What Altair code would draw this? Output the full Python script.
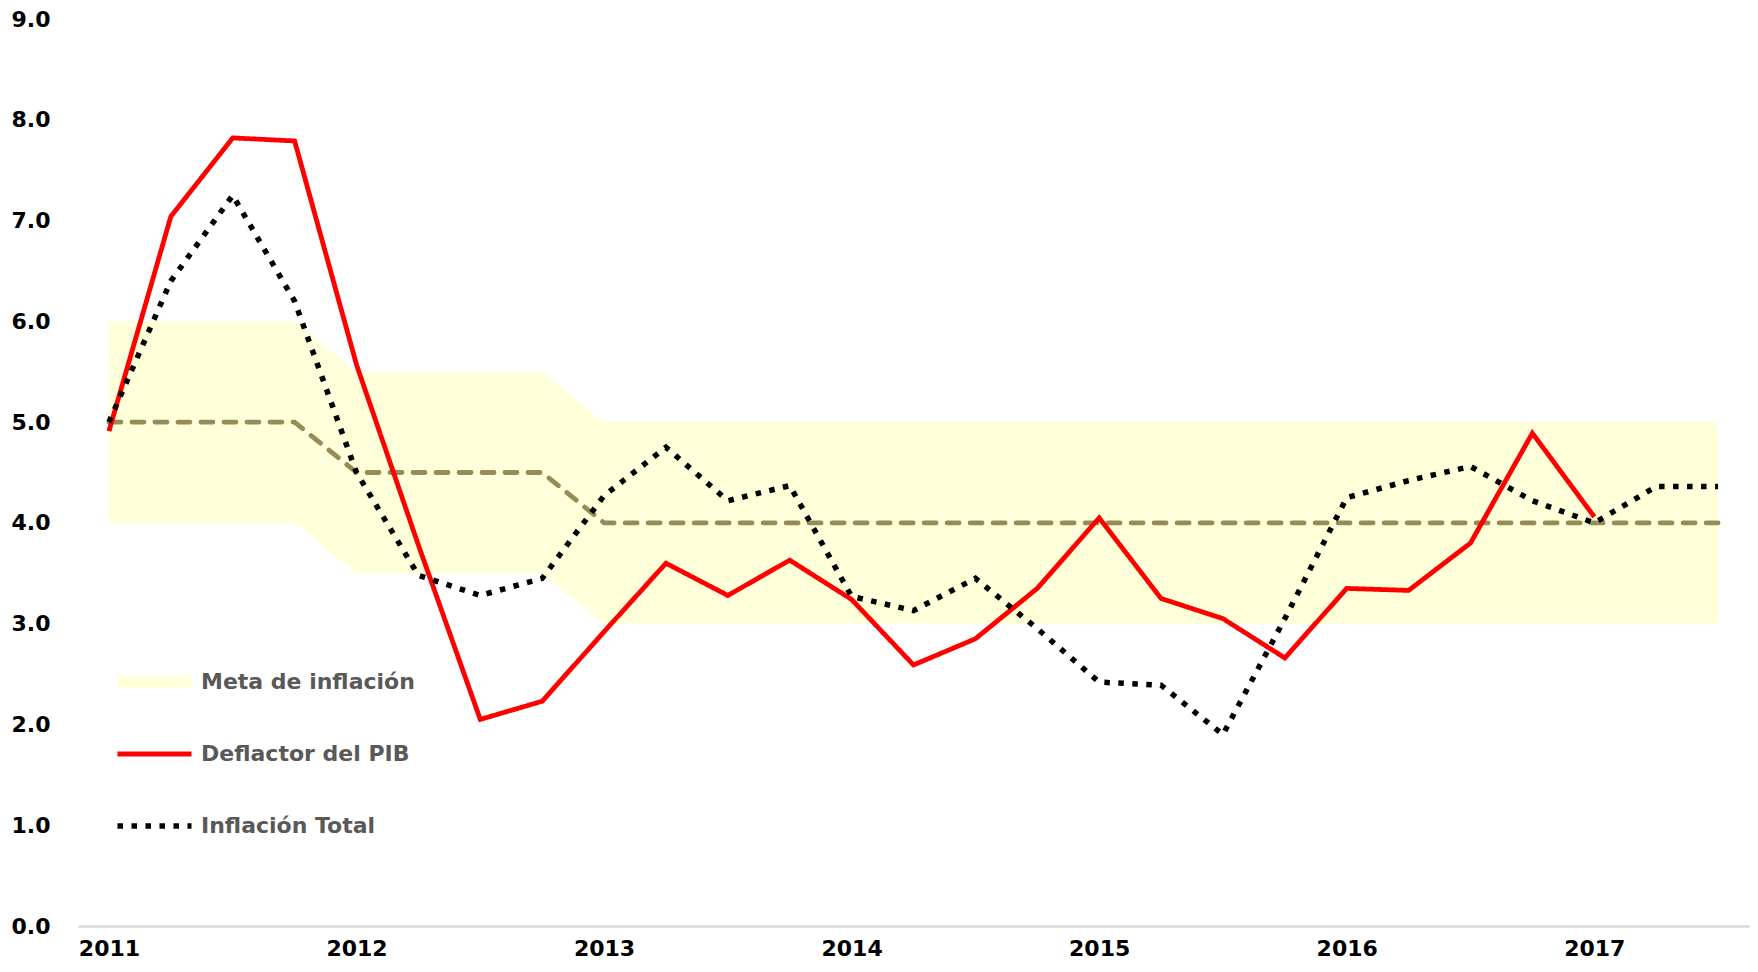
import json
import altair as alt
import pandas as pd

# ---- data (quarterly, 2011T1 .. 2017T3) ----
periodos = ["2011T1", "2011T2", "2011T3", "2011T4",
            "2012T1", "2012T2", "2012T3", "2012T4",
            "2013T1", "2013T2", "2013T3", "2013T4",
            "2014T1", "2014T2", "2014T3", "2014T4",
            "2015T1", "2015T2", "2015T3", "2015T4",
            "2016T1", "2016T2", "2016T3", "2016T4",
            "2017T1", "2017T2", "2017T3"]
anios = ["2011", "2012", "2013", "2014", "2015", "2016", "2017"]

deflactor_pib = [4.91, 7.04, 7.82, 7.79, 5.57, 3.78, 2.05, 2.23,
                 2.92, 3.60, 3.28, 3.63, 3.24, 2.59, 2.85, 3.35,
                 4.05, 3.25, 3.05, 2.66, 3.35, 3.33, 3.80, 4.89,
                 4.06]
inflacion_total = [5.00, 6.40, 7.25, 6.20, 4.50, 3.48, 3.28, 3.45,
                   4.27, 4.75, 4.22, 4.37, 3.27, 3.13, 3.45, 2.95,
                   2.42, 2.39, 1.90, 3.05, 4.25, 4.42, 4.56, 4.22,
                   4.00, 4.36, 4.36]
meta_centro = [5.0, 5.0, 5.0, 5.0, 4.5, 4.5, 4.5, 4.5,
               4.0, 4.0, 4.0, 4.0, 4.0, 4.0, 4.0, 4.0,
               4.0, 4.0, 4.0, 4.0, 4.0, 4.0, 4.0, 4.0,
               4.0, 4.0, 4.0]
meta_inferior = [4.0, 4.0, 4.0, 4.0, 3.5, 3.5, 3.5, 3.5,
                 3.0, 3.0, 3.0, 3.0, 3.0, 3.0, 3.0, 3.0,
                 3.0, 3.0, 3.0, 3.0, 3.0, 3.0, 3.0, 3.0,
                 3.0, 3.0, 3.0]
meta_superior = [6.0, 6.0, 6.0, 6.0, 5.5, 5.5, 5.5, 5.5,
                 5.0, 5.0, 5.0, 5.0, 5.0, 5.0, 5.0, 5.0,
                 5.0, 5.0, 5.0, 5.0, 5.0, 5.0, 5.0, 5.0,
                 5.0, 5.0, 5.0]

series = ["Meta de inflación", "Deflactor del PIB", "Inflación Total"]

# ---- tables ----
df_meta = pd.DataFrame({
    "idx": list(range(len(periodos))),
    "periodo": periodos,
    "centro": meta_centro,
    "inferior": meta_inferior,
    "superior": meta_superior,
})
rows = []
for i, v in enumerate(deflactor_pib):
    rows.append({"idx": i, "periodo": periodos[i], "serie": series[1], "valor": v})
for i, v in enumerate(inflacion_total):
    rows.append({"idx": i, "periodo": periodos[i], "serie": series[2], "valor": v})
df_lines = pd.DataFrame(rows)

FONT = "DejaVu Sans"

x_enc = alt.X(
    "idx:Q",
    scale=alt.Scale(domain=[-0.5, len(periodos) - 0.5], nice=False, zero=False),
    axis=alt.Axis(
        title=None, values=[0, 4, 8, 12, 16, 20, 24],
        labelExpr=json.dumps(anios) + "[round(datum.value / 4)]",
        grid=False, ticks=False, domainColor="#D9D9D9", domainWidth=2.5,
        labelFont=FONT, labelFontSize=22, labelFontWeight="bold",
        labelColor="#000000", labelPadding=12, labelBaseline="top",
    ),
)
y_axis = alt.Axis(
    title=None, values=[0, 1, 2, 3, 4, 5, 6, 7, 8, 9], format=".1f",
    grid=False, ticks=False, domain=False,
    labelFont=FONT, labelFontSize=22, labelFontWeight="bold",
    labelColor="#000000", labelPadding=28,
)
y_scale = alt.Scale(domain=[0, 9], nice=False, zero=True)


def leyenda():
    return alt.Legend(
        title=None, orient="none", legendX=33, legendY=638,
        symbolType="stroke", symbolSize=5476, labelOffset=3,
        clipHeight=50, rowPadding=22, padding=0,
        labelFont=FONT, labelFontSize=22, labelFontWeight="bold",
        labelColor="#595959", labelLimit=500,
    )


band = alt.Chart(df_meta).mark_area(color="#FFFFD9", opacity=1).encode(
    x=x_enc,
    y=alt.Y("inferior:Q", scale=y_scale, axis=y_axis),
    y2="superior:Q",
)

centro = alt.Chart(df_meta).mark_line(
    color="#978C57", strokeWidth=4.8, strokeDash=[12, 11], strokeCap="round"
).encode(
    x=x_enc,
    y=alt.Y("centro:Q", scale=y_scale, axis=y_axis),
)

lines = alt.Chart(df_lines).mark_line(strokeJoin="miter").encode(
    x=x_enc,
    y=alt.Y("valor:Q", scale=y_scale, axis=y_axis),
    color=alt.Color(
        "serie:N",
        scale=alt.Scale(domain=series, range=["#FFFFD9", "#FF0000", "#000000"]),
        legend=leyenda(),
    ),
    strokeWidth=alt.StrokeWidth(
        "serie:N",
        scale=alt.Scale(type="ordinal", domain=series, range=[13, 4.8, 5.5]),
        legend=leyenda(),
    ),
    strokeDash=alt.StrokeDash(
        "serie:N",
        scale=alt.Scale(domain=series, range=[[1, 0], [1, 0], [5.5, 8.5]]),
        legend=leyenda(),
    ),
    detail="serie:N",
    order="idx:Q",
)

chart = alt.layer(band, centro, lines).properties(
    width=1671, height=907,
    autosize=alt.AutoSizeParams(type="none"),
    padding={"left": 70, "top": 11, "right": 1, "bottom": 38},
    background="#FFFFFF",
).configure_view(stroke=None)

chart.save("out.html", embed_options={"renderer": "svg", "actions": False})
